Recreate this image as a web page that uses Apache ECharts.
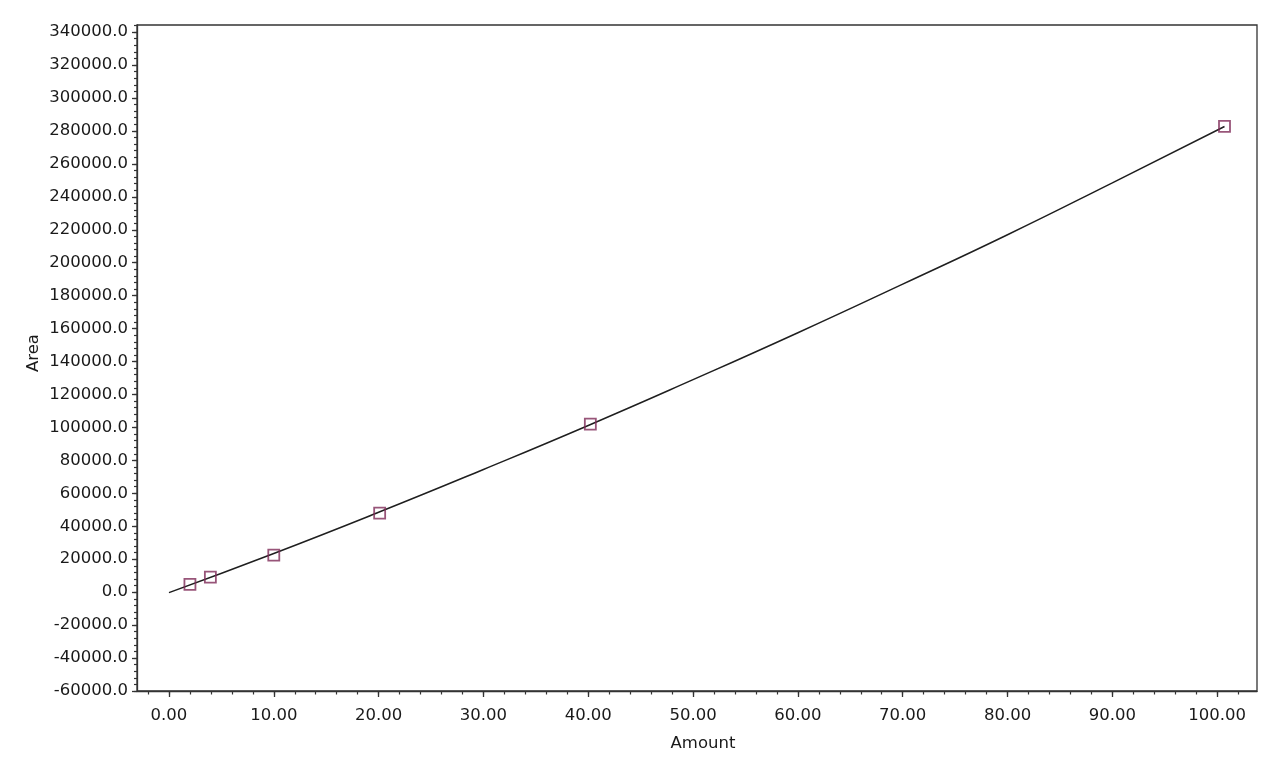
<!DOCTYPE html>
<html>
<head>
<meta charset="utf-8">
<script src="https://cdn.jsdelivr.net/npm/echarts@6/dist/echarts.min.js"></script>
<style>
  html, body { margin: 0; padding: 0; background: #fff; }
  #main { width: 1280px; height: 776px; }
</style>
</head>
<body>
<div id="main"></div>
<script>
// calibration standards
var pointAmount = [2.0, 3.95, 10.0, 20.1, 40.2, 100.7];
var pointArea = [4700, 9100, 22500, 48000, 102000, 282700];

// fitted curve
var curveAmount = [0, 10, 20, 30, 40, 50, 60, 70, 80, 90, 100.7];
var curveArea = [-300, 23500, 48500, 74500, 101200, 129000, 157500, 187000, 217000, 248500, 282700];

// tick labels
var xTicks = [0, 10, 20, 30, 40, 50, 60, 70, 80, 90, 100];
var yTicks = [-60000, -40000, -20000, 0, 20000, 40000, 60000, 80000, 100000, 120000, 140000,
  160000, 180000, 200000, 220000, 240000, 260000, 280000, 300000, 320000, 340000];

var xMin = -3.05, xMax = 103.8;
var yMin = -60000, yMax = 344300;

// minor tick positions
var xMinor = [];
for (var i = -2; i <= 102; i += 2) xMinor.push(i);
var yMinor = [];
for (var j = -60000; j <= 344000; j += 4000) yMinor.push(j);

var font = 'DejaVu Sans';
var axisColor = '#333';
var textColor = '#1a1a1a';

var myChart = echarts.init(document.getElementById('main'));

var option = {
  animation: false,
  grid: {
    left: 137, right: 23, top: 25, bottom: 85,
    show: true, borderColor: axisColor, borderWidth: 1.3,
    outerBoundsMode: 'none'
  },
  xAxis: [
    {
      type: 'value', min: xMin, max: xMax, position: 'bottom',
      name: 'Amount', nameLocation: 'middle', nameGap: 44,
      nameTextStyle: { fontFamily: font, fontSize: 16.5, color: textColor, padding: [0, 0, 0, 12] },
      axisLine: { show: true, onZero: false, lineStyle: { color: axisColor, width: 1.3 } },
      axisTick: { show: true, customValues: xTicks, length: 6, lineStyle: { color: axisColor, width: 1.3 } },
      axisLabel: {
        customValues: xTicks, margin: 16, fontFamily: font, fontSize: 16.5, color: textColor,
        formatter: function (v) { return v.toFixed(2); }
      },
      splitLine: { show: false }
    },
    {
      type: 'value', min: xMin, max: xMax, position: 'bottom',
      axisLine: { show: false, onZero: false },
      axisTick: { show: true, customValues: xMinor, length: 3.5, lineStyle: { color: axisColor, width: 1.2 } },
      axisLabel: { show: false },
      splitLine: { show: false }
    }
  ],
  yAxis: [
    {
      type: 'value', min: yMin, max: yMax, position: 'left',
      name: 'Area', nameLocation: 'middle', nameGap: 95, nameMoveOverlap: false,
      nameTextStyle: { fontFamily: font, fontSize: 16.5, color: textColor, padding: [0, 0, 0, 10] },
      axisLine: { show: true, onZero: false, lineStyle: { color: axisColor, width: 1.3 } },
      axisTick: { show: true, customValues: yTicks, length: 5, lineStyle: { color: axisColor, width: 1.3 } },
      axisLabel: {
        customValues: yTicks, margin: 9, fontFamily: font, fontSize: 16.5, color: textColor,
        formatter: function (v) { return v.toFixed(1); }
      },
      splitLine: { show: false }
    },
    {
      type: 'value', min: yMin, max: yMax, position: 'left',
      axisLine: { show: false, onZero: false },
      axisTick: { show: true, customValues: yMinor, length: 3, lineStyle: { color: axisColor, width: 1.2 } },
      axisLabel: { show: false },
      splitLine: { show: false }
    }
  ],
  series: [
    {
      name: 'Curve',
      type: 'line',
      smooth: true,
      showSymbol: false,
      data: curveAmount.map(function (x, k) { return [x, curveArea[k]]; }),
      lineStyle: { color: '#1f1f1f', width: 1.5 },
      z: 2
    },
    {
      name: 'Standards',
      type: 'scatter',
      symbol: 'rect',
      symbolSize: 11,
      data: pointAmount.map(function (x, k) { return [x, pointArea[k]]; }),
      itemStyle: { color: 'rgba(0,0,0,0)', borderColor: '#7e2a58', borderWidth: 1.8 },
      z: 3
    }
  ]
};

myChart.setOption(option);
</script>
</body>
</html>
